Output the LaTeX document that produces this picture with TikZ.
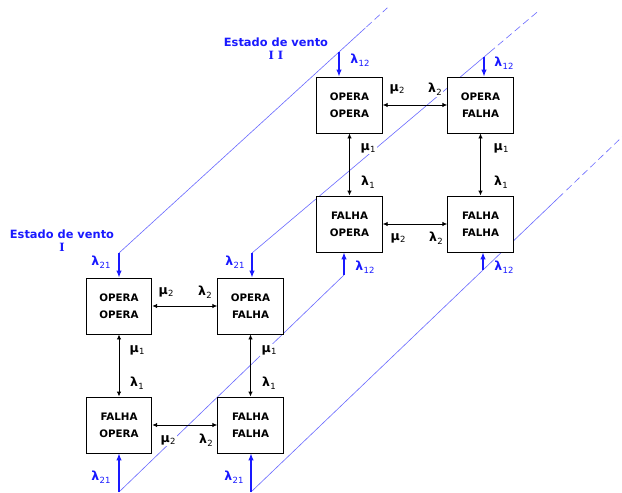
\documentclass[tikz,border=0pt]{standalone}
\usepackage{fontspec}
\setmainfont{DejaVu Sans}
\newfontfamily\numeralfont{DejaVu Serif}
\usetikzlibrary{arrows.meta,calc}
\definecolor{windblue}{RGB}{25,25,255}
\definecolor{linkblue}{RGB}{105,105,255}
% transition rate: bold Greek letter with a small subscript
\newcommand\rate[2]{{\fontsize{12.5}{13}\selectfont\bfseries #1}\kern0.3pt\raisebox{-0.5ex}{\fontsize{8.5}{9}\selectfont #2}}
\begin{document}
\begin{tikzpicture}[x=1pt,y=-1pt,
  state/.style={draw, line width=0.9pt, fill=white, minimum width=65.5pt,
    minimum height=56pt, inner sep=0pt, align=center,
    font=\fontsize{10.3}{17}\selectfont\bfseries},
  duplex/.style={{Latex[length=5pt,width=4.5pt]}-{Latex[length=5pt,width=4.5pt]}, line width=0.9pt},
  wind/.style={-{Latex[length=7pt,width=5.5pt]}, line width=1.1pt, windblue},
  link/.style={linkblue, line width=0.6pt},
  tail/.style={link, dash pattern=on 7pt off 4pt},
  lab/.style={inner sep=1.5pt, fill=white},
  bluelab/.style={inner sep=1pt, text=windblue},
  title/.style={align=center, text=windblue, inner sep=0pt,
    font=\fontsize{11.4}{13}\selectfont\bfseries}]
\fill[white] (0,0) rectangle (622,493);
\useasboundingbox (0,0) rectangle (622,493);

% ends of the wind-state transitions
\coordinate (a1) at (119,253);
\coordinate (a2) at (252,253);
\coordinate (a3) at (119,492);
\coordinate (a4) at (251,492);
\coordinate (b1) at (339,52);
\coordinate (b2) at (484,57);
\coordinate (b3) at (344,275);
\coordinate (b4) at (483,270);

% links between the two wind states
\draw[link] (a1) -- ($(a1)!1.12!(b1)$);
\draw[tail] ($(a1)!1.125!(b1)$) -- ($(a1)!1.22!(b1)$);
\draw[link] (a2) -- ($(a2)!1.047!(b2)$);
\draw[tail] ($(a2)!1.06!(b2)$) -- ($(a2)!1.24!(b2)$);
\draw[link] (a3) -- (b3);
\draw[link] (a4) -- ($(a4)!1.345!(b4)$);
\draw[tail] ($(a4)!1.36!(b4)$) -- ($(a4)!1.65!(b4)$);

% wind state I
\node[state] (oo1) at (119,306) {OPERA\\OPERA};
\node[state] (of1) at (250.5,306) {OPERA\\FALHA};
\node[state] (fo1) at (119,425) {FALHA\\OPERA};
\node[state] (ff1) at (250.5,425) {FALHA\\FALHA};
% wind state II
\node[state] (oo2) at (349.5,105) {OPERA\\OPERA};
\node[state] (of2) at (480.5,105) {OPERA\\FALHA};
\node[state] (fo2) at (349.5,224) {FALHA\\OPERA};
\node[state] (ff2) at (480.5,224) {FALHA\\FALHA};

% repair / failure transitions
\draw[duplex] (oo1) -- (of1);
\draw[duplex] (fo1) -- (ff1);
\draw[duplex] (oo1) -- (fo1);
\draw[duplex] (of1) -- (ff1);
\draw[duplex] (oo2) -- (of2);
\draw[duplex] (fo2) -- (ff2);
\draw[duplex] (oo2) -- (fo2);
\draw[duplex] (of2) -- (ff2);

% wind transitions into each state
\draw[wind] (a1) -- (a1 |- oo1.north);
\draw[wind] (a2) -- (a2 |- of1.north);
\draw[wind] (a3) -- (a3 |- fo1.south);
\draw[wind] (a4) -- (a4 |- ff1.south);
\draw[wind] (b1) -- (b1 |- oo2.north);
\draw[wind] (b2) -- (b2 |- of2.north);
\draw[wind] (b3) -- (b3 |- fo2.south);
\draw[wind] (b4) -- (b4 |- ff2.south);

% rate labels, state I
\node[lab] (m2a) at (166,292) {\rate{μ}{2}};
\node[lab] (l2a) at (205,292) {\rate{λ}{2}};
\node[lab] (m2b) at (168,440) {\rate{μ}{2}};
\node[lab] (l2b) at (206,440) {\rate{λ}{2}};
\node[lab] (m1a) at (137,350) {\rate{μ}{1}};
\node[lab] (l1a) at (137,383) {\rate{λ}{1}};
\node[lab] (m1b) at (269,350) {\rate{μ}{1}};
\node[lab] (l1b) at (269,383) {\rate{λ}{1}};
% rate labels, state II
\node[lab] (m2c) at (397,89) {\rate{μ}{2}};
\node[lab] (l2c) at (435,89) {\rate{λ}{2}};
\node[lab] (m2d) at (398,238) {\rate{μ}{2}};
\node[lab] (l2d) at (436,238) {\rate{λ}{2}};
\node[lab] (m1c) at (368,148) {\rate{μ}{1}};
\node[lab] (l1c) at (368,182) {\rate{λ}{1}};
\node[lab] (m1d) at (501,148) {\rate{μ}{1}};
\node[lab] (l1d) at (501,182) {\rate{λ}{1}};

% wind transition rates
\node[bluelab] (w21a) at (101,262) {\rate{λ}{21}};
\node[bluelab] (w21b) at (235,262) {\rate{λ}{21}};
\node[bluelab] (w21c) at (101,477) {\rate{λ}{21}};
\node[bluelab] (w21d) at (234,477) {\rate{λ}{21}};
\node[bluelab] (w12a) at (360,60) {\rate{λ}{12}};
\node[bluelab] (w12b) at (504,63) {\rate{λ}{12}};
\node[bluelab] (w12c) at (365,267) {\rate{λ}{12}};
\node[bluelab] (w12d) at (504,267) {\rate{λ}{12}};

% wind state titles
\node[title] (t1) at (62,241) {Estado de vento\\{\numeralfont I}};
\node[title] (t2) at (276,49) {Estado de vento\\{\numeralfont I I}};
\end{tikzpicture}
\end{document}
